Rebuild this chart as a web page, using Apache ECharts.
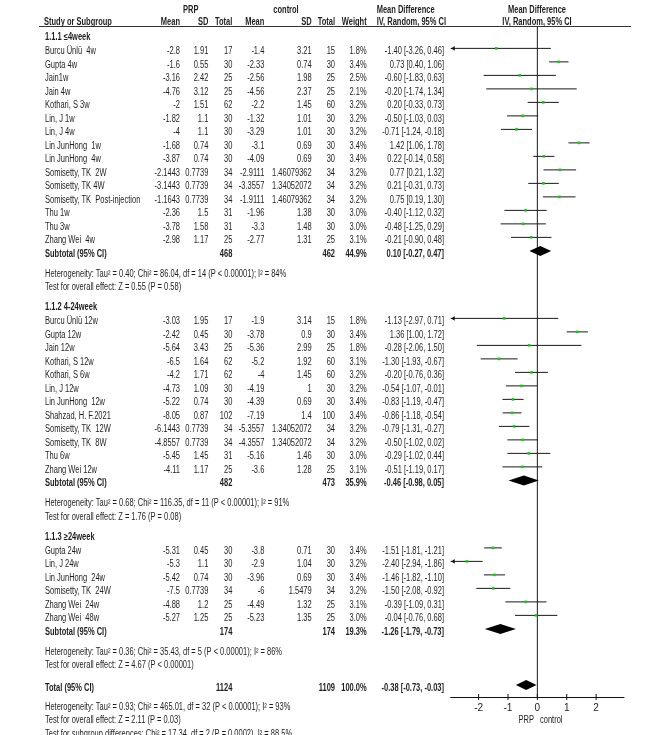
<!DOCTYPE html>
<html><head><meta charset="utf-8">
<script src="https://cdn.jsdelivr.net/npm/echarts@6/dist/echarts.min.js"></script>
<style>html,body{margin:0;padding:0;background:#fff}#c{width:669px;height:735px}</style>
</head><body><div id="c"></div><script>
// ---------- DATA ----------
const groupLabels = ['1.1.1 \u22644week', '1.1.2 4-24week', '1.1.3 \u226524week'];
const studyGroup = [0,0,0,0,0,0,0,0,0,0,0,0,0,0,0, 1,1,1,1,1,1,1,1,1,1,1,1, 2,2,2,2,2,2];
const studyNames = [
  'Burcu \u00dcnl\u00fc  4w','Gupta 4w','Jain1w','Jain 4w','Kothari, S 3w','Lin, J 1w','Lin, J 4w',
  'Lin JunHong  1w','Lin JunHong  4w','Somisetty, TK  2W','Somisetty, TK 4W','Somisetty, TK  Post-injection',
  'Thu 1w','Thu 3w','Zhang Wei  4w',
  'Burcu \u00dcnl\u00fc 12w','Gupta 12w','Jain 12w','Kothari, S 12w','Kothari, S 6w','Lin, J 12w','Lin JunHong  12w',
  'Shahzad, H. F.2021','Somisetty, TK  12W','Somisetty, TK  8W','Thu 6w','Zhang Wei 12w',
  'Gupta 24w','Lin, J 24w','Lin JunHong  24w','Somisetty, TK  24W','Zhang Wei  24w','Zhang Wei  48w'
];
const prpMean = [-2.8,-1.6,-3.16,-4.76,-2,-1.82,-4,-1.68,-3.87,-2.1443,-3.1443,-1.1643,-2.36,-3.78,-2.98,
  -3.03,-2.42,-5.64,-6.5,-4.2,-4.73,-5.22,-8.05,-6.1443,-4.8557,-5.45,-4.11,
  -5.31,-5.3,-5.42,-7.5,-4.88,-5.27];
const prpSD = [1.91,0.55,2.42,3.12,1.51,1.1,1.1,0.74,0.74,0.7739,0.7739,0.7739,1.5,1.58,1.17,
  1.95,0.45,3.43,1.64,1.71,1.09,0.74,0.87,0.7739,0.7739,1.45,1.17,
  0.45,1.1,0.74,0.7739,1.2,1.25];
const prpN = [17,30,25,25,62,30,30,30,30,34,34,34,31,31,25, 17,30,25,62,62,30,30,102,34,34,31,25, 30,30,30,34,25,25];
const ctlMean = [-1.4,-2.33,-2.56,-4.56,-2.2,-1.32,-3.29,-3.1,-4.09,-2.9111,-3.3557,-1.9111,-1.96,-3.3,-2.77,
  -1.9,-3.78,-5.36,-5.2,-4,-4.19,-4.39,-7.19,-5.3557,-4.3557,-5.16,-3.6,
  -3.8,-2.9,-3.96,-6,-4.49,-5.23];
const ctlSD = [3.21,0.74,1.98,2.37,1.45,1.01,1.01,0.69,0.69,1.46079362,1.34052072,1.46079362,1.38,1.48,1.31,
  3.14,0.9,2.99,1.92,1.45,1,0.69,1.4,1.34052072,1.34052072,1.46,1.28,
  0.71,1.04,0.69,1.5479,1.32,1.35];
const ctlN = [15,30,25,25,60,30,30,30,30,34,34,34,30,30,25, 15,30,25,60,60,30,30,100,34,34,30,25, 30,30,30,34,25,25];
const weight = [1.8,3.4,2.5,2.1,3.2,3.2,3.2,3.4,3.4,3.2,3.2,3.2,3.0,3.0,3.1,
  1.8,3.4,1.8,3.1,3.2,3.2,3.4,3.4,3.2,3.2,3.0,3.1,
  3.4,3.2,3.4,3.2,3.1,3.0];
const md = [-1.40,0.73,-0.60,-0.20,0.20,-0.50,-0.71,1.42,0.22,0.77,0.21,0.75,-0.40,-0.48,-0.21,
  -1.13,1.36,-0.28,-1.30,-0.20,-0.54,-0.83,-0.86,-0.79,-0.50,-0.29,-0.51,
  -1.51,-2.40,-1.46,-1.50,-0.39,-0.04];
const ciLo = [-3.26,0.40,-1.83,-1.74,-0.33,-1.03,-1.24,1.06,-0.14,0.21,-0.31,0.19,-1.12,-1.25,-0.90,
  -2.97,1.00,-2.06,-1.93,-0.76,-1.07,-1.19,-1.18,-1.31,-1.02,-1.02,-1.19,
  -1.81,-2.94,-1.82,-2.08,-1.09,-0.76];
const ciHi = [0.46,1.06,0.63,1.34,0.73,0.03,-0.18,1.78,0.58,1.32,0.73,1.30,0.32,0.29,0.48,
  0.71,1.72,1.50,-0.67,0.36,-0.01,-0.47,-0.54,-0.27,0.02,0.44,0.17,
  -1.21,-1.86,-1.10,-0.92,0.31,0.68];
const subPrpN = [468, 482, 174];
const subCtlN = [462, 473, 174];
const subWeight = [44.9, 35.9, 19.3];
const subMD = [0.10, -0.46, -1.26];
const subLo = [-0.27, -0.98, -1.79];
const subHi = [0.47, 0.05, -0.73];
const subHet = [
  'Heterogeneity: Tau\u00b2 = 0.40; Chi\u00b2 = 86.04, df = 14 (P < 0.00001); I\u00b2 = 84%',
  'Heterogeneity: Tau\u00b2 = 0.68; Chi\u00b2 = 116.35, df = 11 (P < 0.00001); I\u00b2 = 91%',
  'Heterogeneity: Tau\u00b2 = 0.36; Chi\u00b2 = 35.43, df = 5 (P < 0.00001); I\u00b2 = 86%'
];
const subTest = [
  'Test for overall effect: Z = 0.55 (P = 0.58)',
  'Test for overall effect: Z = 1.76 (P = 0.08)',
  'Test for overall effect: Z = 4.67 (P < 0.00001)'
];
const totalPrpN = 1124, totalCtlN = 1109, totalWeight = 100.0;
const totalMD = -0.38, totalLo = -0.73, totalHi = -0.03;
const totalHet = 'Heterogeneity: Tau\u00b2 = 0.93; Chi\u00b2 = 465.01, df = 32 (P < 0.00001); I\u00b2 = 93%';
const totalTest = 'Test for overall effect: Z = 2.11 (P = 0.03)';
const subgroupTest = 'Test for subgroup differences: Chi\u00b2 = 17.34, df = 2 (P = 0.0002), I\u00b2 = 88.5%';
const xTicks = [-2, -1, 0, 1, 2];
const favourLeft = 'PRP', favourRight = 'control';

// ---------- LAYOUT ----------
const XMIN = -2.95, XMAX = 2.95;
const ROW_PX = 13.5, FIRST_PX = 47.7, GRID_TOP = 27, GRID_BOTTOM_PX = 697;
const YMIN = 1 + (GRID_TOP - FIRST_PX) / ROW_PX;
const YMAX = 1 + (GRID_BOTTOM_PX - FIRST_PX) / ROW_PX;
const TEXT_DY = 3.3, SX = 0.75, FS = 10;
const FONT = '"Liberation Sans", Arial, Helvetica, sans-serif';
const COL = {name:45, pm:180, psd:208.3, pn:232.3, cm:264.3, csd:311.7, cn:335, w:366.7, ci:444};
const f2 = v => v.toFixed(2);
const ciText = (m, l, h) => f2(m) + ' [' + f2(l) + ', ' + f2(h) + ']';

const rows = [];   // text rows
const marks = [];  // forest marks
const R = (x, text, align, bold) => ({x, text: String(text), align: align || 'right', bold: !!bold});

rows.push({u: -2.04, cells: [R(190.7, 'PRP', 'center', true), R(286, 'control', 'center', true),
  R(376.7, 'Mean Difference', 'left', true), R(537, 'Mean Difference', 'center', true)]});
rows.push({u: -1.1, cells: [R(44, 'Study or Subgroup', 'left', true), R(COL.pm, 'Mean', 0, true), R(COL.psd, 'SD', 0, true),
  R(COL.pn, 'Total', 0, true), R(COL.cm, 'Mean', 0, true), R(COL.csd, 'SD', 0, true), R(COL.cn, 'Total', 0, true),
  R(COL.w, 'Weight', 0, true), R(376.7, 'IV, Random, 95% CI', 'left', true), R(537, 'IV, Random, 95% CI', 'center', true)]});

let u = 0;
for (let g = 0; g < groupLabels.length; g++) {
  if (g > 0) u += 1.5;
  rows.push({u, cells: [R(COL.name, groupLabels[g], 'left', true)]});
  u += 1.05;
  for (let i = 0; i < studyNames.length; i++) {
    if (studyGroup[i] !== g) continue;
    rows.push({u, cells: [R(COL.name, studyNames[i], 'left'), R(COL.pm, prpMean[i]), R(COL.psd, prpSD[i]), R(COL.pn, prpN[i]),
      R(COL.cm, ctlMean[i]), R(COL.csd, ctlSD[i]), R(COL.cn, ctlN[i]), R(COL.w, weight[i].toFixed(1) + '%'),
      R(COL.ci, ciText(md[i], ciLo[i], ciHi[i]))]});
    marks.push({u, m: md[i], lo: ciLo[i], hi: ciHi[i], kind: 0});
    u += 1;
  }
  rows.push({u, cells: [R(COL.name, 'Subtotal (95% CI)', 'left', true), R(COL.pn, subPrpN[g], 0, true), R(COL.cn, subCtlN[g], 0, true),
    R(COL.w, subWeight[g].toFixed(1) + '%', 0, true), R(COL.ci, ciText(subMD[g], subLo[g], subHi[g]), 0, true)]});
  marks.push({u, m: subMD[g], lo: subLo[g], hi: subHi[g], kind: 1});
  u += 1.45;
  rows.push({u, cells: [R(COL.name, subHet[g], 'left')]});
  u += 1;
  rows.push({u, cells: [R(COL.name, subTest[g], 'left')]});
}
u += 1.7;
rows.push({u, cells: [R(COL.name, 'Total (95% CI)', 'left', true), R(COL.pn, totalPrpN, 0, true), R(COL.cn, totalCtlN, 0, true),
  R(COL.w, totalWeight.toFixed(1) + '%', 0, true), R(COL.ci, ciText(totalMD, totalLo, totalHi), 0, true)]});
marks.push({u, m: totalMD, lo: totalLo, hi: totalHi, kind: 1});
u += 1.4;
rows.push({u, cells: [R(COL.name, totalHet, 'left')]});
u += 1;
rows.push({u, cells: [R(COL.name, totalTest, 'left'), R(534, favourLeft, 'right'), R(540, favourRight, 'left')]});
u += 1;
rows.push({u, cells: [R(COL.name, subgroupTest, 'left')]});

function txt(x, y, c) {
  return {type: 'text', x, y, scaleX: SX, scaleY: 1,
    style: {text: c.text, x: 0, y: 0, align: c.align, verticalAlign: 'middle', fill: '#1e1e1e',
      fontSize: FS, fontFamily: FONT, fontWeight: c.bold ? 'bold' : 'normal'}};
}

const chart = echarts.init(document.getElementById('c'), null, {renderer: 'canvas'});
chart.setOption({
  animation: false,
  backgroundColor: '#fff',
  grid: {left: 450.7, right: 669 - 624, top: GRID_TOP, bottom: 735 - GRID_BOTTOM_PX, containLabel: false, outerBoundsMode: 'none'},
  graphic: [{type: 'line', shape: {x1: 39, y1: 26.5, x2: 631, y2: 26.5}, style: {stroke: '#333', lineWidth: 1}}],
  xAxis: {
    type: 'value', min: XMIN, max: XMAX, position: 'bottom',
    axisLine: {show: true, onZero: false, lineStyle: {color: '#111', width: 1}},
    axisTick: {show: false},
    axisLabel: {show: true, customValues: xTicks, margin: 6, color: '#222', fontSize: 10, fontFamily: FONT},
    splitLine: {show: false}
  },
  yAxis: {type: 'value', inverse: true, min: YMIN, max: YMAX, show: false},
  series: [{
    type: 'custom', name: 'zero-line', clip: false,
    data: [[0]],
    encode: {x: 0},
    renderItem: function (params, api) {
      const top = api.coord([api.value(0), YMIN]), bot = api.coord([api.value(0), YMAX]);
      return {type: 'line', shape: {x1: top[0], y1: top[1], x2: bot[0], y2: bot[1]}, style: {stroke: '#1a1a1a', lineWidth: 1}};
    },
    z: 1
  }, {
    type: 'custom', name: 'ticks', clip: false,
    data: xTicks.map(t => [t]),
    encode: {x: 0},
    renderItem: function (params, api) {
      const p = api.coord([api.value(0), YMAX]);
      return {type: 'line', shape: {x1: p[0], y1: p[1] - 3, x2: p[0], y2: p[1] + 3}, style: {stroke: '#111', lineWidth: 1}};
    },
    z: 1
  }, {
    type: 'custom', name: 'forest', clip: false,
    data: marks.map(k => [k.m, k.u, k.lo, k.hi, k.kind]),
    encode: {x: 0, y: 1},
    renderItem: function (params, api) {
      const m = api.value(0), uu = api.value(1), lo = api.value(2), hi = api.value(3), kind = api.value(4);
      const p = api.coord([m, uu]);
      const y = p[1];
      if (kind === 1) {
        const xl = api.coord([lo, uu])[0], xh = api.coord([hi, uu])[0];
        return {type: 'polygon', shape: {points: [[xl, y], [p[0], y - 5], [xh, y], [p[0], y + 5]]}, style: {fill: '#000'}};
      }
      const arrowL = lo < XMIN + 0.02;
      const xl = api.coord([arrowL ? XMIN : lo, uu])[0];
      const xh = api.coord([Math.min(hi, XMAX), uu])[0];
      const children = [{type: 'line', shape: {x1: xl, y1: y, x2: xh, y2: y}, style: {stroke: '#1a1a1a', lineWidth: 1}}];
      if (arrowL) {
        children.push({type: 'polygon', shape: {points: [[xl + 0.5, y], [xl + 4, y - 2.3], [xl + 4, y + 2.3]]}, style: {fill: '#111'}});
      }
      children.push({type: 'rect', shape: {x: p[0] - 1.3, y: y - 1.3, width: 2.6, height: 2.6}, style: {fill: '#14c814'}});
      return {type: 'group', children};
    },
    z: 3
  }, {
    type: 'custom', name: 'table', clip: false,
    data: rows.map(r => [0, r.u]),
    encode: {x: 0, y: 1},
    renderItem: function (params, api) {
      const r = rows[params.dataIndex];
      const y = api.coord([0, api.value(1)])[1] + TEXT_DY;
      return {type: 'group', children: r.cells.map(c => txt(c.x, y, c))};
    },
    z: 2
  }]
});
</script></body></html>
